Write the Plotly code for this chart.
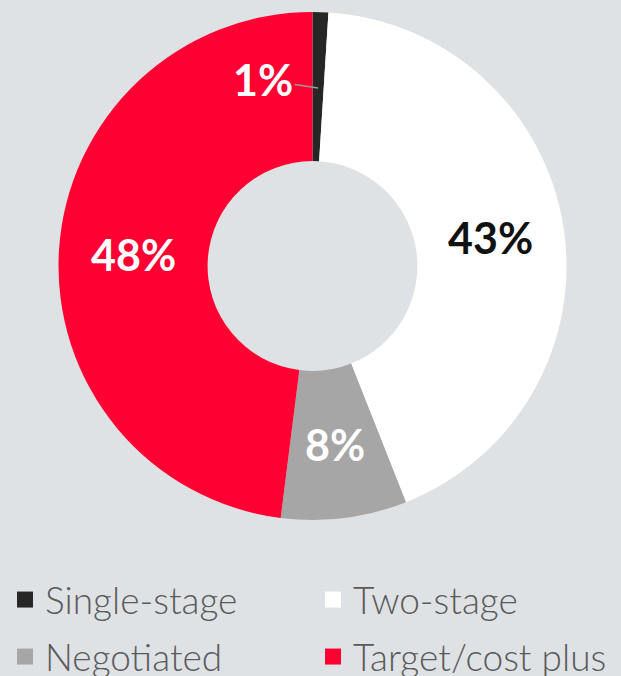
import math
import plotly.graph_objects as go

categories = ["Single-stage", "Two-stage", "Negotiated", "Target/cost plus"]
values = [1, 43, 8, 48]
colors = ["#262626", "#ffffff", "#a6a6a6", "#ff0033"]
text_colors = ["#ffffff", "#111111", "#ffffff", "#ffffff"]
legend_ids = ["legend", "legend2", "legend3", "legend4"]

W, H = 621, 676
BG = "#dfe2e5"
dom_x = [58 / W, 567 / W]
dom_y = [1 - 520 / H, 1 - 12 / H]
hole = 0.413
LBL = 43

fig = go.Figure()
fig.add_trace(go.Pie(
    labels=categories,
    values=values,
    sort=False,
    direction="clockwise",
    rotation=0,
    hole=hole,
    marker=dict(colors=colors, line=dict(width=0)),
    textinfo="none",
    domain=dict(x=dom_x, y=dom_y),
    hoverinfo="label+percent",
    showlegend=False,
))

# legend entries (square swatches)
for name, col, lg in zip(categories, colors, legend_ids):
    fig.add_trace(go.Scatter(
        x=[None], y=[None], mode="markers", name=name, legend=lg,
        marker=dict(symbol="square", size=16, color=col, line=dict(width=0)),
        hoverinfo="skip",
    ))

# percentage labels placed at the middle of each slice (from the data)
total = sum(values)
cx = (dom_x[0] + dom_x[1]) / 2
cy = (dom_y[0] + dom_y[1]) / 2
R_px = (dom_x[1] - dom_x[0]) * W / 2
r_mid = (1 + hole) / 2 * R_px
cum = 0.0
for i, (v, tc) in enumerate(zip(values, text_colors)):
    ang = (cum + v / 2) / total * 2 * math.pi
    cum += v
    pct = "<b>%d%%</b>" % round(v / total * 100)
    if i == 0:
        r_t = 0.70 * R_px
        fig.add_annotation(
            x=cx + r_t * math.sin(ang) / W, y=cy + r_t * math.cos(ang) / H,
            xref="paper", yref="paper", text=pct,
            font=dict(family="Lato", size=LBL, color=tc),
            showarrow=True, arrowhead=0, arrowwidth=1.5, arrowcolor="#9a9a9a",
            ax=-55, ay=-8, standoff=0,
        )
    else:
        fig.add_annotation(
            x=cx + r_mid * math.sin(ang) / W, y=cy + r_mid * math.cos(ang) / H,
            xref="paper", yref="paper", text=pct, showarrow=False,
            xanchor="center", yanchor="middle",
            font=dict(family="Lato", size=LBL, color=tc),
        )

leg_common = dict(
    orientation="h", xanchor="left", yanchor="middle",
    font=dict(family="Lato", size=37, color="#5a5a5a", weight=300),
    itemsizing="trace", bgcolor="rgba(0,0,0,0)",
)
col_x = [5 / W, 313 / W]
row_y = [1 - 600 / H, 1 - 657 / H]

fig.update_layout(
    width=W, height=H,
    margin=dict(l=0, r=0, t=0, b=0, autoexpand=False),
    paper_bgcolor=BG,
    plot_bgcolor=BG,
    showlegend=True,
    xaxis=dict(visible=False),
    yaxis=dict(visible=False),
    legend=dict(x=col_x[0], y=row_y[0], **leg_common),
    legend2=dict(x=col_x[1], y=row_y[0], **leg_common),
    legend3=dict(x=col_x[0], y=row_y[1], **leg_common),
    legend4=dict(x=col_x[1], y=row_y[1], **leg_common),
)

fig.write_html("out.html", config={"displayModeBar": False},
               post_script="document.body.style.margin='0';")
